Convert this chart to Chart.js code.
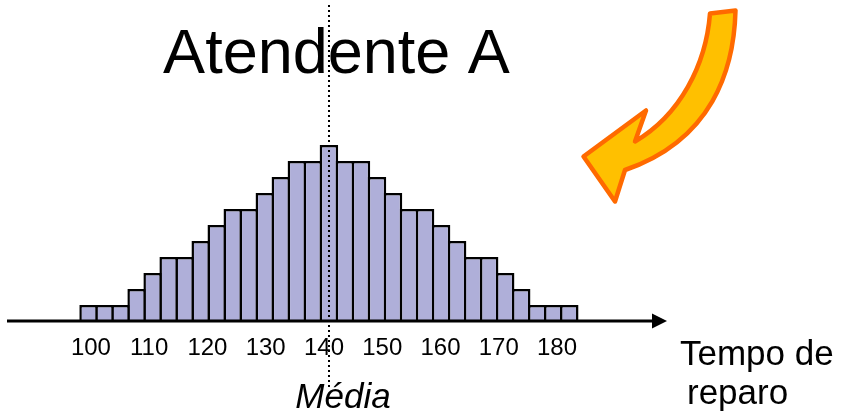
<!DOCTYPE html>
<html>
<head>
<meta charset="utf-8">
<script src="https://cdn.jsdelivr.net/npm/chart.js@4/dist/chart.umd.min.js"></script>
<style>
  html, body { margin: 0; padding: 0; background: #ffffff; }
  #wrap { width: 842px; height: 420px; position: relative; }
</style>
</head>
<body>
<div id="wrap"><canvas id="c" width="842" height="420"></canvas></div>
<script>
// Repair-time histogram: bin centres (minutes) and number of calls per bin
const binCenters = [99.6, 102.35, 105.1, 107.85, 110.6, 113.35, 116.1, 118.85, 121.6, 124.35,
                    127.1, 129.85, 132.6, 135.35, 138.1, 140.85, 143.6, 146.35, 149.1, 151.85,
                    154.6, 157.35, 160.1, 162.85, 165.6, 168.35, 171.1, 173.85, 176.6, 179.35, 182.1];
const counts = [1, 1, 1, 2, 3, 4, 4, 5, 6, 7, 7, 8, 9, 10, 10, 11, 10, 10, 9, 8, 7, 7, 6, 5, 4, 4, 3, 2, 1, 1, 1];
const tickValues = [100, 110, 120, 130, 140, 150, 160, 170, 180];

const titleText = 'Atendente A';
const meanLabel = 'Média';
const axisTitleLines = ['Tempo de', 'reparo'];

const FONT = '"Liberation Sans", Arial, Helvetica, sans-serif';

// weighted mean of the histogram, marked with the dotted line
const totalCount = counts.reduce((a, b) => a + b, 0);
const mean = binCenters.reduce((s, c, i) => s + c * counts[i], 0) / totalCount;

const decor = {
  id: 'decor',
  afterDatasetsDraw(chart) {
    const ctx = chart.ctx;
    const xs = chart.scales.x;
    const ys = chart.scales.y;
    const area = chart.chartArea;
    const y0 = ys.getPixelForValue(0);

    ctx.save();

    // horizontal axis with arrow head
    ctx.strokeStyle = '#000';
    ctx.lineWidth = 3;
    ctx.beginPath();
    ctx.moveTo(area.left, y0);
    ctx.lineTo(area.right + 2, y0);
    ctx.stroke();
    ctx.fillStyle = '#000';
    ctx.beginPath();
    ctx.moveTo(area.right, y0 - 7.5);
    ctx.lineTo(area.right + 15, y0);
    ctx.lineTo(area.right, y0 + 7.5);
    ctx.closePath();
    ctx.fill();

    // texts
    ctx.fillStyle = '#000';
    ctx.textBaseline = 'alphabetic';
    ctx.textAlign = 'center';
    ctx.font = '63px ' + FONT;
    ctx.fillText(titleText, 336.5, 73);

    ctx.font = 'italic 35px ' + FONT;
    ctx.fillText(meanLabel, 343, 408);

    ctx.textAlign = 'left';
    ctx.font = '35px ' + FONT;
    ctx.fillText(axisTitleLines[0], 680, 365);
    ctx.fillText(axisTitleLines[1], 687, 404);

    // dotted mean line
    const xm = Math.round(xs.getPixelForValue(mean));
    ctx.strokeStyle = '#000';
    ctx.lineWidth = 2;
    ctx.setLineDash([2, 3]);
    ctx.beginPath();
    ctx.moveTo(xm, 5);
    ctx.lineTo(xm, 389);
    ctx.stroke();
    ctx.setLineDash([]);

    // curved call-out arrow
    ctx.beginPath();
    ctx.moveTo(710, 13.5);
    ctx.lineTo(735.5, 10.5);
    ctx.bezierCurveTo(734, 70, 712, 140, 625, 170);
    ctx.lineTo(615, 201.5);
    ctx.lineTo(583.5, 156.5);
    ctx.lineTo(646, 110.5);
    ctx.lineTo(635, 141.5);
    ctx.bezierCurveTo(680, 115, 706, 65, 710, 13.5);
    ctx.closePath();
    ctx.fillStyle = '#ffc000';
    ctx.fill();
    ctx.lineJoin = 'round';
    ctx.lineWidth = 4.5;
    ctx.strokeStyle = '#ff6a00';
    ctx.stroke();

    ctx.restore();
  }
};

new Chart(document.getElementById('c'), {
  type: 'bar',
  data: {
    datasets: [{
      data: binCenters.map((c, i) => ({ x: c, y: counts[i] })),
      backgroundColor: '#afafd9',
      borderColor: '#000000',
      borderWidth: 2.5,
      borderSkipped: 'start',
      barPercentage: 1.156,
      categoryPercentage: 1
    }]
  },
  options: {
    responsive: false,
    animation: false,
    devicePixelRatio: 1,
    layout: { padding: { left: 7, right: 190, top: 1, bottom: 0 } },
    plugins: { legend: { display: false }, tooltip: { enabled: false }, title: { display: false } },
    scales: {
      x: {
        type: 'linear',
        offset: false,
        min: 85.6,
        max: 196.3,
        grid: { display: false, drawTicks: false, offset: false },
        border: { display: false },
        afterBuildTicks(scale) { scale.ticks = tickValues.map(v => ({ value: v })); },
        afterFit(scale) { scale.height = 99; },
        ticks: {
          color: '#000',
          padding: 13,
          maxRotation: 0,
          autoSkip: false,
          font: { family: FONT, size: 24 },
          callback: v => String(v)
        }
      },
      y: {
        display: false,
        min: 0,
        max: 20
      }
    }
  },
  plugins: [decor]
});
</script>
</body>
</html>
